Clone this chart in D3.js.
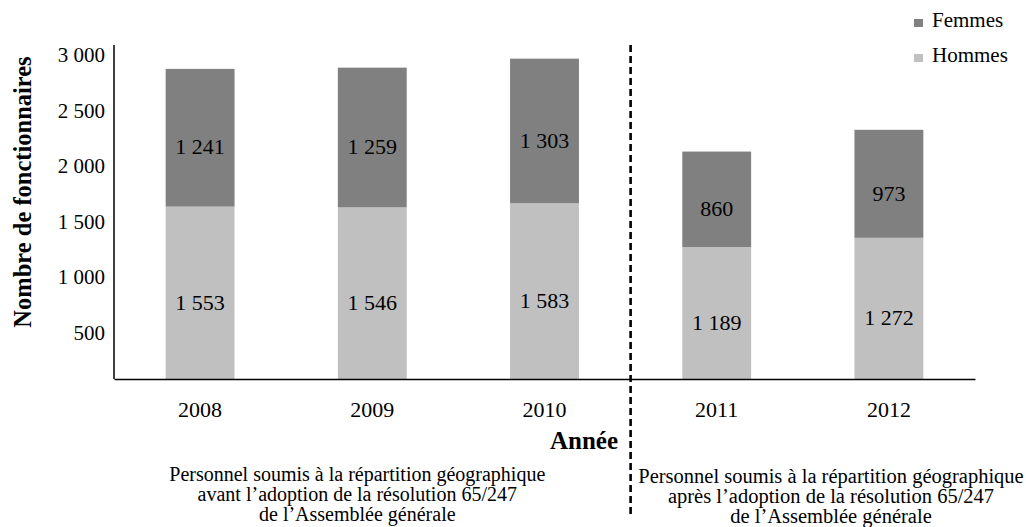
<!DOCTYPE html>
<html>
<head>
<meta charset="utf-8">
<script src="https://cdn.jsdelivr.net/npm/d3@7"></script>
<style>
  body { margin: 0; background: #fff; }
  svg text { font-family: "Liberation Serif", "Times New Roman", serif; fill: #000; }
  .axis path { stroke: #000; stroke-width: 1.5; }
</style>
</head>
<body>
<div id="chart"></div>
<script>
// data
var years = ["2008", "2009", "2010", "2011", "2012"];
var hommes = [1553, 1546, 1583, 1189, 1272];
var femmes = [1241, 1259, 1303, 860, 973];
var yTicks = [500, 1000, 1500, 2000, 2500, 3000];
var seriesNames = ["Hommes", "Femmes"];
var seriesColors = ["#c0c0c0", "#808080"];
var legendOrder = ["Femmes", "Hommes"];
var noteBefore = ["Personnel soumis à la répartition géographique",
                  "avant l’adoption de la résolution 65/247",
                  "de l’Assemblée générale"];
var noteAfter = ["Personnel soumis à la répartition géographique",
                 "après l’adoption de la résolution 65/247",
                 "de l’Assemblée générale"];

var W = 1026, H = 527;
var margin = { top: 46, right: 51, bottom: 148, left: 114 };
var width = W - margin.left - margin.right;
var height = H - margin.top - margin.bottom;

var fr = d3.formatLocale({ decimal: ",", thousands: " ", grouping: [3], currency: ["", ""] });
var fmt = fr.format(",d");

var svg = d3.select("#chart").append("svg")
  .attr("width", W)
  .attr("height", H);

var g = svg.append("g")
  .attr("transform", "translate(" + margin.left + "," + margin.top + ")");

// build table for the stack
var table = years.map(function(y, i) {
  return { year: y, Hommes: hommes[i], Femmes: femmes[i] };
});
var stacked = d3.stack().keys(seriesNames)(table);

// scales
var x = d3.scaleBand()
  .domain(years)
  .range([0, width])
  .paddingInner(0.6)
  .paddingOuter(0.3);

var y = d3.scaleLinear()
  .domain([0, 3000])
  .range([height, 0]);

var color = d3.scaleOrdinal().domain(seriesNames).range(seriesColors);

// bars
var layer = g.selectAll(".layer")
  .data(stacked)
  .enter().append("g")
  .attr("class", "layer")
  .attr("fill", function(d) { return color(d.key); });

layer.selectAll("rect")
  .data(function(d) { return d; })
  .enter().append("rect")
  .attr("x", function(d) { return x(d.data.year); })
  .attr("width", x.bandwidth())
  .attr("y", function(d) { return y(d[1]); })
  .attr("height", function(d) { return y(d[0]) - y(d[1]); });

// value labels
layer.selectAll("text")
  .data(function(d) { return d; })
  .enter().append("text")
  .attr("x", function(d) { return x(d.data.year) + x.bandwidth() / 2; })
  .attr("y", function(d) { return (y(d[0]) + y(d[1])) / 2 + 9; })
  .attr("dy", "0.35em")
  .attr("text-anchor", "middle")
  .style("font-size", "22px")
  .text(function(d) { return fmt(d[1] - d[0]); });

// axes
var yAxis = d3.axisLeft(y)
  .tickValues(yTicks)
  .tickSize(0)
  .tickPadding(9)
  .tickFormat(fmt);

var yAxisGroup = g.append("g")
  .attr("class", "axis y-axis")
  .call(yAxis);
yAxisGroup.selectAll("text")
  .attr("y", 9)
  .style("font-size", "21px");
yAxisGroup.select(".domain").attr("d", "M0," + (height) + "V-1");

var xAxis = d3.axisBottom(x)
  .tickSize(0)
  .tickPadding(22)
  .tickSizeOuter(0);

var xAxisGroup = g.append("g")
  .attr("class", "axis x-axis")
  .attr("transform", "translate(0," + height + ")")
  .call(xAxis);
xAxisGroup.selectAll("text")
  .style("font-size", "22px");

// axis titles
g.append("text")
  .attr("transform", "translate(" + (22 - margin.left) + "," + (192 - margin.top) + ") rotate(-90)")
  .attr("text-anchor", "middle")
  .attr("dy", "0.35em")
  .style("font-size", "24.5px")
  .style("font-weight", "bold")
  .text("Nombre de fonctionnaires");

g.append("text")
  .attr("x", 618 - margin.left)
  .attr("y", height + 70)
  .attr("text-anchor", "end")
  .style("font-size", "25px")
  .style("font-weight", "bold")
  .text("Année");

// divider between 2010 and 2011
var divX = (x("2010") + x.bandwidth() + x("2011")) / 2;
g.append("line")
  .attr("x1", divX).attr("x2", divX)
  .attr("y1", -1).attr("y2", 470)
  .attr("stroke", "#000")
  .attr("stroke-width", 2.6)
  .attr("stroke-dasharray", "7,4");

// notes under the axis
function note(lines, cx, top, size) {
  var t = g.append("text")
    .attr("text-anchor", "middle")
    .style("font-size", size + "px");
  t.selectAll("tspan")
    .data(lines)
    .enter().append("tspan")
    .attr("x", cx)
    .attr("y", function(d, i) { return top + i * 20; })
    .text(function(d) { return d; });
}
var midBefore = (x("2008") + x("2010") + x.bandwidth()) / 2;
note(noteBefore, midBefore - 15, 481 - margin.top, 20);
note(noteAfter, 831 - margin.left, 483 - margin.top, 20.5);

// legend
var legend = svg.append("g")
  .attr("transform", "translate(914,0)");

var item = legend.selectAll(".legend-item")
  .data(legendOrder)
  .enter().append("g")
  .attr("class", "legend-item")
  .attr("transform", function(d, i) { return "translate(0," + (19 + i * 35) + ")"; });

item.append("rect")
  .attr("width", 9)
  .attr("height", 8)
  .attr("fill", function(d) { return color(d); });

item.append("text")
  .attr("x", 18)
  .attr("y", 8)
  .style("font-size", "21px")
  .text(function(d) { return d; });
</script>
</body>
</html>
